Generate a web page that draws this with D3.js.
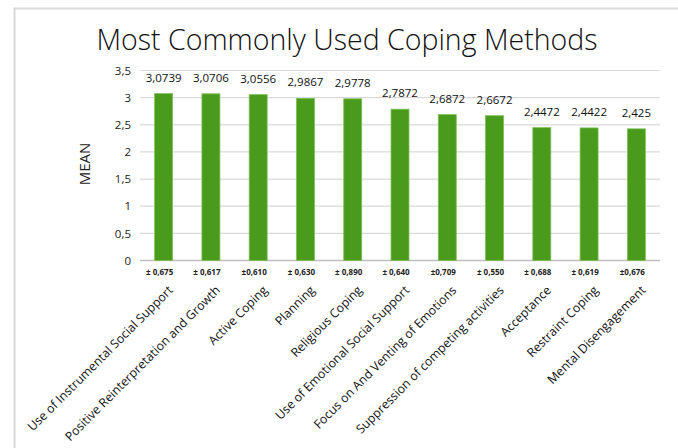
<!DOCTYPE html>
<html><head><meta charset="utf-8">
<script src="https://cdn.jsdelivr.net/npm/d3@7"></script>
<style>html,body{margin:0;padding:0;background:#fff;}svg{display:block;}</style>
</head><body>
<svg id="c" width="678" height="448"></svg>
<script>
const categories = ["Use of Instrumental Social Support","Positive Reinterpretation and Growth","Active Coping","Planning","Religious Coping","Use of Emotional Social Support","Focus on And Venting of Emotions","Suppression of competing activities","Acceptance","Restraint Coping","Mental Disengagement"];
const means = [3.0739,3.0706,3.0556,2.9867,2.9778,2.7872,2.6872,2.6672,2.4472,2.4422,2.425];
const meanLabels = ["3,0739","3,0706","3,0556","2,9867","2,9778","2,7872","2,6872","2,6672","2,4472","2,4422","2,425"];
const sdLabels = ["± 0,675","± 0,617","±0,610","± 0,630","± 0,890","± 0,640","±0,709","± 0,550","± 0,688","± 0,619","±0,676"];
const yTicks = [0,0.5,1,1.5,2,2.5,3,3.5];
const yTickLabels = ["0","0,5","1","1,5","2","2,5","3","3,5"];

const svg = d3.select("#c");
const font = "'Open Sans', sans-serif";
// outer frame
svg.append("path").attr("d","M14.5,448 V8.5 H678").attr("fill","none").attr("stroke","#d9d9d9").attr("stroke-width",2);

const x = d3.scaleBand().domain(categories).range([140,660]).paddingInner(0.62).paddingOuter(0.31);
const y = d3.scaleLinear().domain([0,3.5]).range([260.5,70.5]);

svg.append("text").attr("x",347).attr("y",50).attr("text-anchor","middle")
  .attr("font-family",font).attr("font-size",28.5).attr("font-weight",300).attr("fill","#111").text("Most Commonly Used Coping Methods");

// grid
svg.append("g").selectAll("line").data(yTicks).join("line")
  .attr("x1",140).attr("x2",660).attr("y1",d=>y(d)).attr("y2",d=>y(d))
  .attr("stroke",d=>d===0?"#bfbfbf":"#d9d9d9").attr("stroke-width",d=>d===0?1.5:1.2);

const yAxis = d3.axisLeft(y).tickValues(yTicks).tickFormat((d,i)=>yTickLabels[i]).tickSize(0).tickPadding(0);
const ya = svg.append("g").attr("transform","translate(131,0)").call(yAxis);
ya.select(".domain").remove();
ya.selectAll("text").attr("font-family",font).attr("font-size",11.5).attr("fill","#222");

svg.append("text").attr("transform","translate(90,164) rotate(-90)").attr("text-anchor","middle")
  .attr("font-family",font).attr("font-size",15).attr("fill","#222").text("MEAN");

// bars
svg.append("g").selectAll("rect").data(means).join("rect")
  .attr("x",(d,i)=>x(categories[i])).attr("width",x.bandwidth())
  .attr("y",d=>y(d)).attr("height",d=>y(0)-y(d))
  .attr("fill","#4a9a1c").attr("stroke","#7cbf55").attr("stroke-width",0.8);

// value labels
svg.append("g").selectAll("text").data(means).join("text")
  .attr("x",(d,i)=>x(categories[i])+x.bandwidth()/2).attr("y",d=>y(d)-12)
  .attr("text-anchor","middle").attr("font-family",font).attr("font-size",11.5).attr("fill","#111")
  .text((d,i)=>meanLabels[i]);

// sd labels
svg.append("g").selectAll("text").data(sdLabels).join("text")
  .attr("x",(d,i)=>x(categories[i])+x.bandwidth()/2-4).attr("y",275)
  .attr("text-anchor","middle").attr("font-family",font).attr("font-size",8).attr("font-weight",700).attr("fill","#222")
  .text(d=>d);

// category labels
svg.append("g").selectAll("text").data(categories).join("text")
  .attr("transform",(d)=>`translate(${x(d)+x.bandwidth()/2+10},291) rotate(-45)`)
  .attr("text-anchor","end").attr("font-family",font).attr("font-size",12.3).attr("fill","#111")
  .text(d=>d);
</script>
</body></html>
